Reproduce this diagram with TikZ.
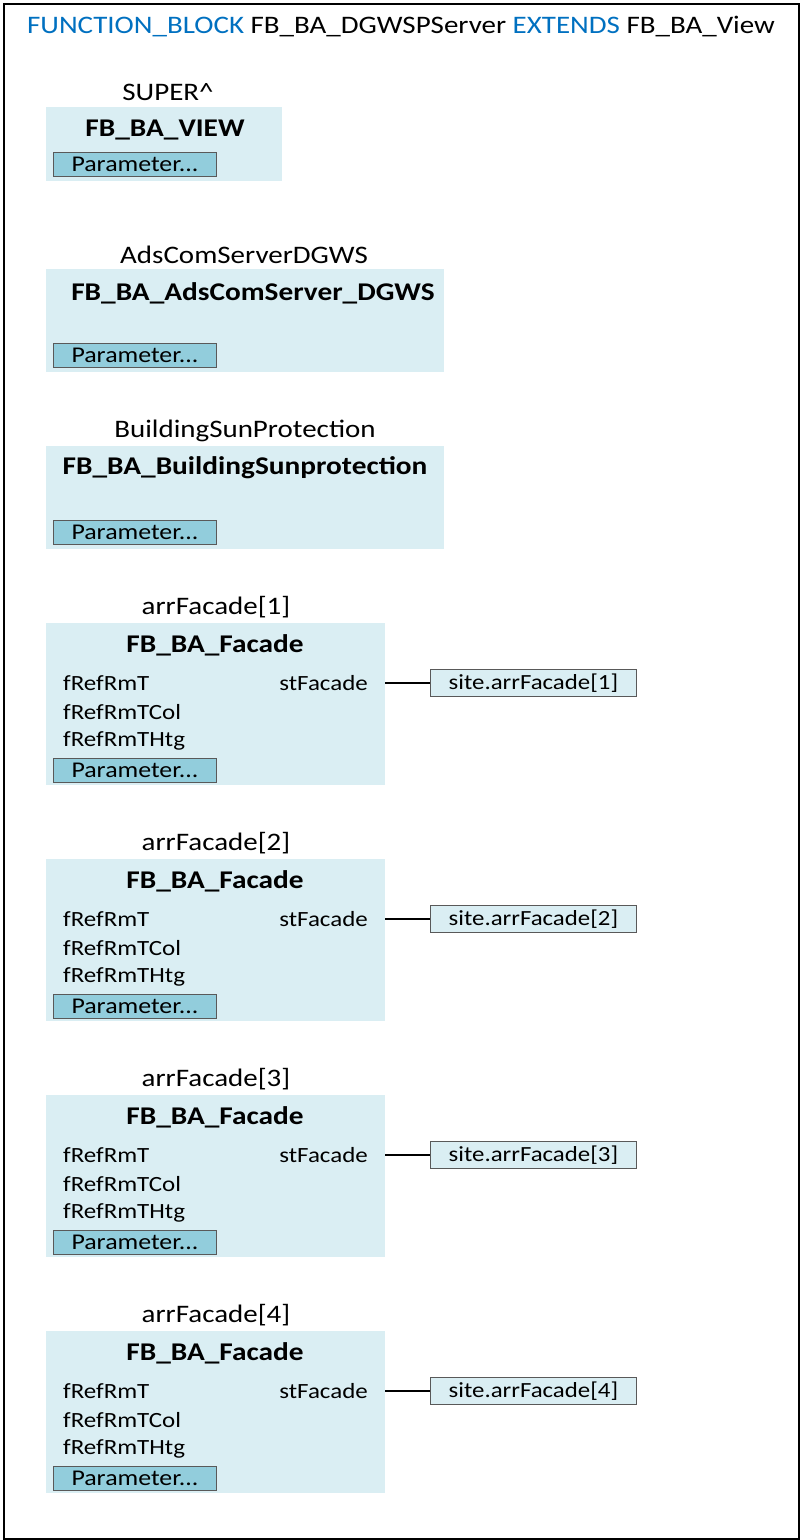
\documentclass[tikz,border=0pt]{standalone}
\usepackage{fontspec}
\setmainfont{Carlito}[FakeStretch=1.15]
\definecolor{boxfill}{HTML}{DAEEF3}
\definecolor{parfill}{HTML}{92CDDC}
\definecolor{kwblue}{HTML}{0070C0}
\definecolor{edgegray}{HTML}{595959}
\newcommand{\hdrfont}{\fontsize{25.2}{29}\selectfont}
\newcommand{\ttl}{\fontsize{25.5}{29}\selectfont\bfseries}
\newcommand{\pinfont}{\fontsize{21.7}{25}\selectfont}
\newcommand{\parfont}{\fontsize{22.5}{26}\selectfont}
\newcommand{\sitefont}{\fontsize{21.6}{25}\selectfont}
\begin{document}
\begin{tikzpicture}[x=1pt,y=-1pt,
  fbbox/.style={fill=boxfill,draw=none,anchor=north west,inner sep=0pt},
  inst/.style={font=\hdrfont,inner sep=0pt},
  fbtitle/.style={font=\ttl,inner sep=0pt},
  pin/.style={font=\pinfont,inner sep=0pt,anchor=west},
  pout/.style={font=\pinfont,inner sep=0pt,anchor=east},
  param/.style={fill=parfill,draw=edgegray,line width=0.8pt,anchor=north west,minimum width=163pt,minimum height=24pt,inner sep=0pt,font=\parfont},
  sitebox/.style={fill=boxfill,draw=edgegray,line width=0.8pt,anchor=north west,minimum width=206pt,minimum height=27pt,inner sep=0pt,font=\sitefont},
  conn/.style={line width=2.4pt}]
\useasboundingbox (0,0) rectangle (800,1540);
\node[draw=black,line width=2pt,anchor=north west,minimum width=795pt,minimum height=1535pt,inner sep=0pt] (frame) at (2.5,2.5) {};
\node[font=\hdrfont,inner sep=0pt] (hdr) at (401,27) {\textcolor{kwblue}{FUNCTION\_BLOCK} FB\_BA\_DGWSPServer \textcolor{kwblue}{EXTENDS} FB\_BA\_View};
% SUPER
\node[inst] (l1) at (168,92) {SUPER\^{}};
\node[fbbox,minimum width=236pt,minimum height=74pt] (b1) at (46,107) {};
\node[fbtitle] (t1) at (165,130) {FB\_BA\_VIEW};
\node[param] (p1) at (53,152) {Parameter...};
% AdsCom
\node[inst] (l2) at (244,255) {AdsComServerDGWS};
\node[fbbox,minimum width=398pt,minimum height=103pt] (b2) at (46,269) {};
\node[fbtitle] (t2) at (253,293) {FB\_BA\_AdsComServer\_DGWS};
\node[param] (p2) at (53,343) {Parameter...};
% Building
\node[inst] (l3) at (245,431) {BuildingSunProtection};
\node[fbbox,minimum width=398pt,minimum height=103pt] (b3) at (46,446) {};
\node[fbtitle] (t3) at (245,468) {FB\_BA\_BuildingSunprotection};
\node[param] (p3) at (53,520) {Parameter...};
% Facades
\foreach \i in {1,2,3,4}{
  \pgfmathsetmacro{\dy}{(\i-1)*236}
  \begin{scope}[yshift=-\dy pt]
  \node[inst] (lf\i) at (216,607) {arrFacade[\i]};
  \node[fbbox,minimum width=339pt,minimum height=162pt] (f\i) at (46,623) {};
  \node[fbtitle] (tf\i) at (215,645) {FB\_BA\_Facade};
  \node[pin] (ia\i) at (63,683) {fRefRmT};
  \node[pin] (ib\i) at (63,712) {fRefRmTCol};
  \node[pin] (ic\i) at (63,741) {fRefRmTHtg};
  \node[pout] (o\i) at (368,683) {stFacade};
  \node[param] (pf\i) at (53,758) {Parameter...};
  \node[sitebox] (s\i) at (430,669) {site.arrFacade[\i]};
  \coordinate (c\i) at (f\i.east |- s\i.west);
  \draw[conn] (c\i) -- (s\i.west);
  \end{scope}
}
\end{tikzpicture}
\end{document}
